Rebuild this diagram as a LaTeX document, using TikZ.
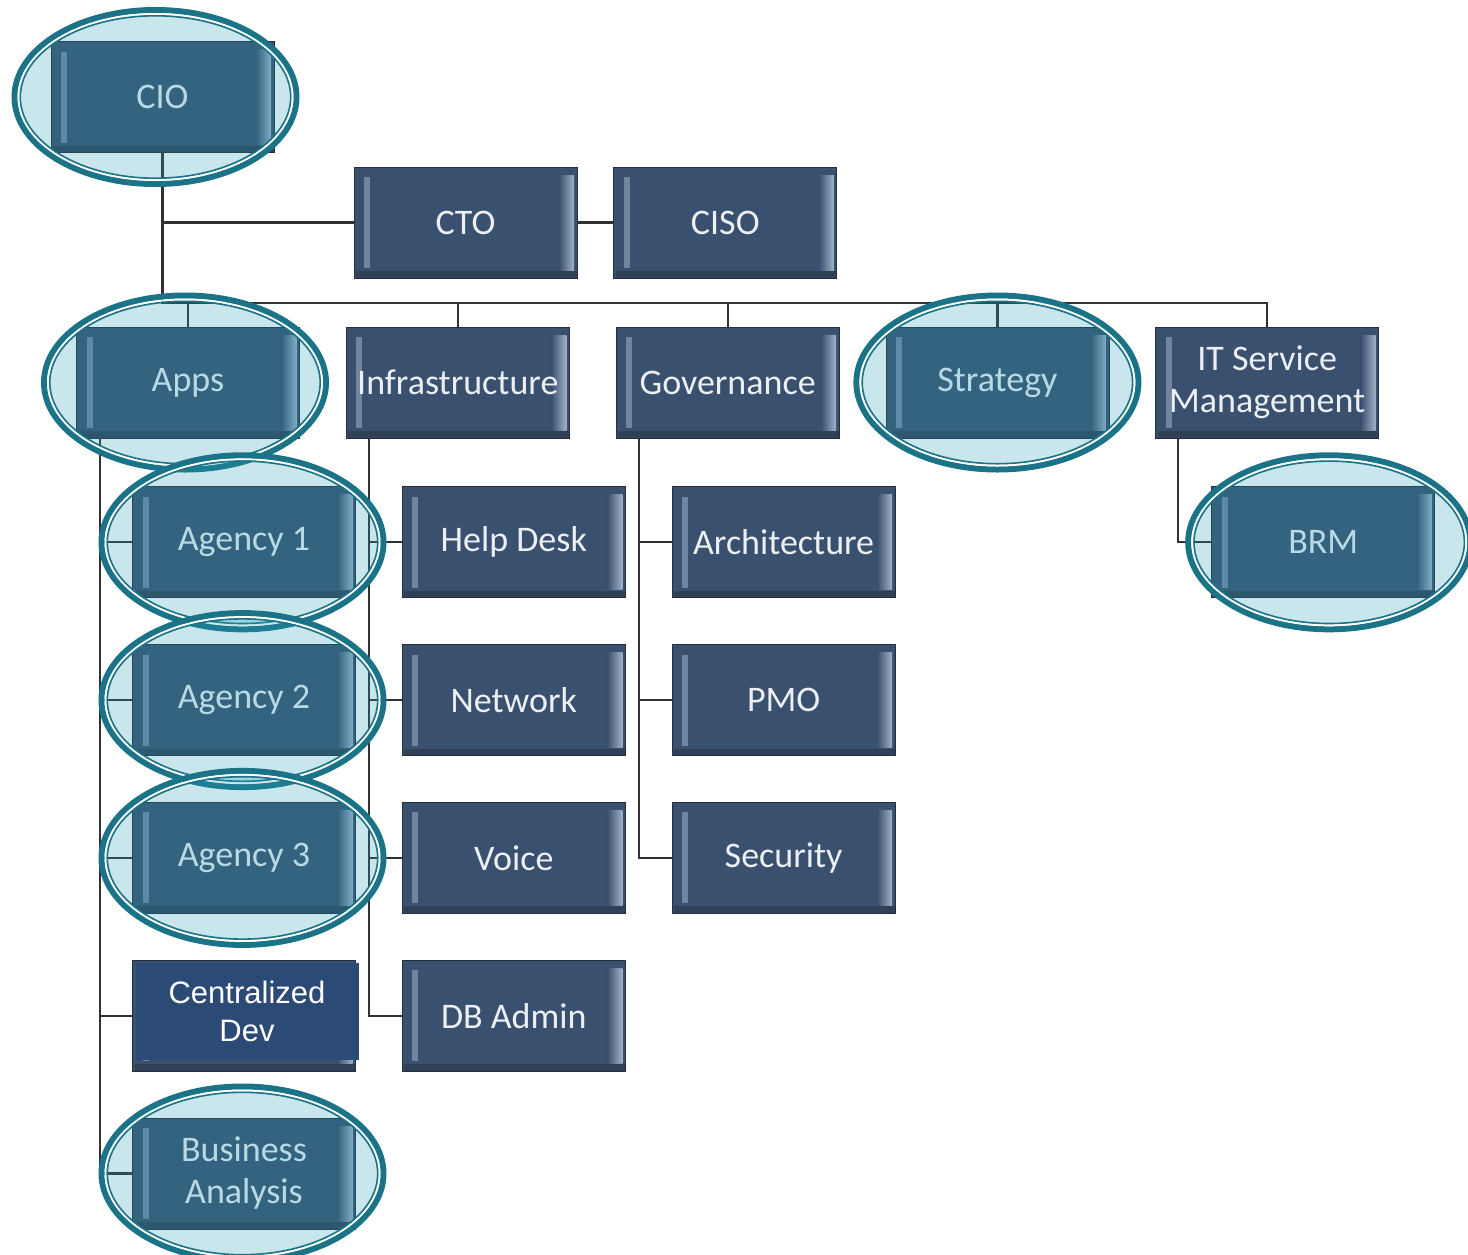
\documentclass[tikz,border=0pt]{standalone}
\usepackage{fontspec}
\usetikzlibrary{positioning,calc}
\newfontfamily\boxfont{Carlito}
\newfontfamily\cdfont{Liberation Sans}
\definecolor{boxfill}{RGB}{57,80,110}
\definecolor{boxedge}{RGB}{36,46,60}
\definecolor{boxhi}{RGB}{160,178,200}
\definecolor{boxtext}{RGB}{236,240,245}
\definecolor{hlteal}{RGB}{27,115,136}
\definecolor{hlcyan}{RGB}{36,156,180}
\definecolor{cdfill}{RGB}{44,74,118}
\definecolor{linegray}{RGB}{50,50,50}
\tikzstyle{gbox}=[rectangle, draw=boxedge, fill=boxfill, minimum width=111.5pt, minimum height=55.5pt, inner sep=0pt, align=center, text=boxtext, font={\boxfont\fontsize{18}{21}\selectfont},
 path picture={
  \fill[boxhi, opacity=0.55] ([shift={(5pt,-5pt)}]path picture bounding box.north west) rectangle ([shift={(8pt,5pt)}]path picture bounding box.south west);
  \shade[left color=boxfill, right color=boxhi] ([shift={(-9pt,-4pt)}]path picture bounding box.north east) rectangle ([shift={(-1.5pt,4pt)}]path picture bounding box.south east);
  \fill[boxedge, opacity=0.45] ([shift={(1pt,3.5pt)}]path picture bounding box.south west) rectangle (path picture bounding box.south east);
 }]
\tikzstyle{cdbox}=[rectangle, fill=cdfill, minimum width=111.5pt, minimum height=48.5pt, inner sep=0pt, align=center, text=white, font={\cdfont\fontsize{15.5}{19}\selectfont}]
\tikzstyle{pline}=[-, line width=1.1pt, draw=linegray]
% highlight ring round a node
\newcommand{\hlring}[2][0pt]{%
  \fill[hlcyan, fill opacity=0.25] ([xshift=#1]#2) ellipse [x radius=70.5pt, y radius=43.5pt];
  \draw[hlteal, line width=3pt] ([xshift=#1]#2) ellipse [x radius=70.5pt, y radius=43.5pt];
  \draw[white, line width=1pt] ([xshift=#1]#2) ellipse [x radius=68.5pt, y radius=41.5pt];
  \draw[hlteal, line width=0.8pt] ([xshift=#1]#2) ellipse [x radius=67.6pt, y radius=40.6pt];}
\begin{document}
\begin{tikzpicture}[x=0.5pt, y=-0.5pt, node distance=23pt]
\path[use as bounding box, fill=white] (0,0) rectangle (1468,1254);
\node (CIO) [gbox] at (162.5,97) {CIO};
\node (CTO) [gbox] at (465.5,222.5) {CTO};
\node (CISO) [gbox, right=18pt of CTO] {CISO};
\node (APPS) [gbox] at (188,382.5) {Apps};
\node (INFRA) [gbox, right=of APPS] {Infrastructure};
\node (GOV) [gbox, right=of INFRA] {Governance};
\node (STRAT) [gbox, right=of GOV] {Strategy};
\node (ITSM) [gbox, right=of STRAT] {IT Service\\Management};
\node (AG1) [gbox, below=24pt of APPS, xshift=28pt] {Agency 1};
\node (AG2) [gbox, below=of AG1] {Agency 2};
\node (AG3) [gbox, below=of AG2] {Agency 3};
\node (CDbase) [gbox, below=of AG3] {};
\node (CD) [cdbox, anchor=north west] at ([shift={(1.5pt,-1.5pt)}]CDbase.north west) {Centralized\\Dev};
\node (BA) [gbox, below=of CDbase] {Business\\Analysis};
\node (HD) [gbox, below=24pt of INFRA, xshift=28pt] {Help Desk};
\node (NET) [gbox, below=of HD] {Network};
\node (VOICE) [gbox, below=of NET] {Voice};
\node (DBA) [gbox, below=of VOICE] {DB Admin};
\node (ARCH) [gbox, below=24pt of GOV, xshift=28pt] {Architecture};
\node (PMO) [gbox, below=of ARCH] {PMO};
\node (SEC) [gbox, below=of PMO] {Security};
\node (BRM) [gbox, below=24pt of ITSM, xshift=28pt] {BRM};
 \draw[pline]   (CTO.west) -| (CIO.south) ;
 \draw[pline]   (CTO.east) -- (CISO.west) ;
 \draw[pline]   (APPS.north) -- ++(0,-24) -| (CIO.south) ;
 \draw[pline]   (INFRA.north) -- ++(0,-24) -| (CIO.south) ;
 \draw[pline]   (GOV.north) -- ++(0,-24) -| (CIO.south) ;
 \draw[pline]   (STRAT.north) -- ++(0,-24) -| (CIO.south) ;
 \draw[pline]   (ITSM.north) -- ++(0,-24) -| (CIO.south) ;
 \draw[pline]   (AG1.west) -| ([xshift=12pt]APPS.south west) ;
 \draw[pline]   (AG2.west) -| ([xshift=12pt]APPS.south west) ;
 \draw[pline]   (AG3.west) -| ([xshift=12pt]APPS.south west) ;
 \draw[pline]   (CDbase.west) -| ([xshift=12pt]APPS.south west) ;
 \draw[pline]   (BA.west) -| ([xshift=12pt]APPS.south west) ;
 \draw[pline]   (HD.west) -| ([xshift=11.5pt]INFRA.south west) ;
 \draw[pline]   (NET.west) -| ([xshift=11.5pt]INFRA.south west) ;
 \draw[pline]   (VOICE.west) -| ([xshift=11.5pt]INFRA.south west) ;
 \draw[pline]   (DBA.west) -| ([xshift=11.5pt]INFRA.south west) ;
 \draw[pline]   (ARCH.west) -| ([xshift=11.5pt]GOV.south west) ;
 \draw[pline]   (PMO.west) -| ([xshift=11.5pt]GOV.south west) ;
 \draw[pline]   (SEC.west) -| ([xshift=11.5pt]GOV.south west) ;
 \draw[pline]   (BRM.west) -| ([xshift=11.5pt]ITSM.south west) ;
\hlring[-3.5pt]{CIO.center}
\hlring[-1.5pt]{APPS.center}
\hlring{STRAT.center}
\hlring[-0.75pt]{AG1.center}
\hlring[-0.75pt]{AG2.center}
\hlring[-0.75pt]{AG3.center}
\hlring[-0.75pt]{BA.center}
\hlring[3pt]{BRM.center}
\end{tikzpicture}
\end{document}
